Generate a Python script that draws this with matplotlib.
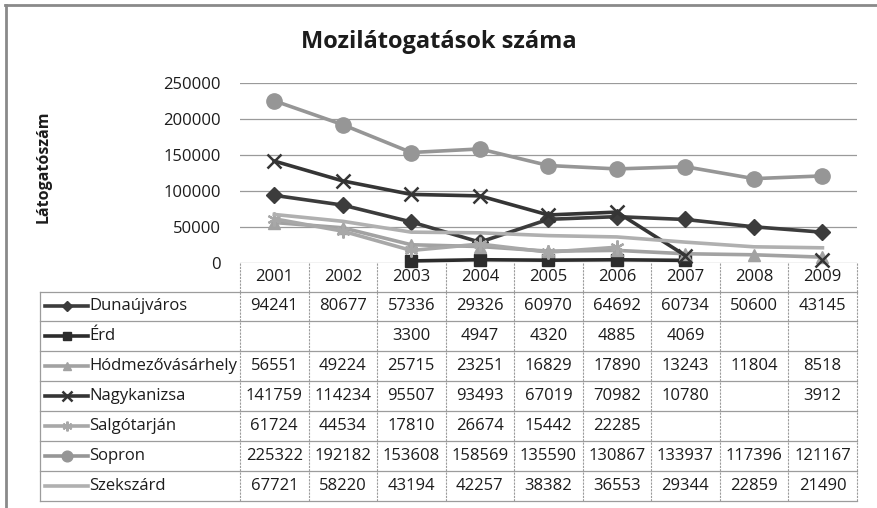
import numpy as np
import matplotlib.pyplot as plt

nan = np.nan

years = ['2001', '2002', '2003', '2004', '2005', '2006', '2007', '2008', '2009']
cities = ['Dunaújváros', 'Érd', 'Hódmezővásárhely', 'Nagykanizsa',
          'Salgótarján', 'Sopron', 'Szekszárd']
dunaujvaros = [94241, 80677, 57336, 29326, 60970, 64692, 60734, 50600, 43145]
erd = [nan, nan, 3300, 4947, 4320, 4885, 4069, nan, nan]
hodmezovasarhely = [56551, 49224, 25715, 23251, 16829, 17890, 13243, 11804, 8518]
nagykanizsa = [141759, 114234, 95507, 93493, 67019, 70982, 10780, nan, 3912]
salgotarjan = [61724, 44534, 17810, 26674, 15442, 22285, nan, nan, nan]
sopron = [225322, 192182, 153608, 158569, 135590, 130867, 133937, 117396, 121167]
szekszard = [67721, 58220, 43194, 42257, 38382, 36553, 29344, 22859, 21490]
series = [dunaujvaros, erd, hodmezovasarhely, nagykanizsa, salgotarjan, sopron, szekszard]

styles = [
    dict(color='#3c3c3c', marker='D', ms=8),
    dict(color='#2c2c2c', marker='s', ms=8),
    dict(color='#a2a2a2', marker='^', ms=9),
    dict(color='#353535', marker='x', ms=10, mew=1.8),
    dict(color='#a8a8a8', marker=(6, 2, 0), ms=10, mew=1.6),
    dict(color='#969696', marker='o', ms=11),
    dict(color='#b0b0b0', marker='None', ms=0),
]

plt.rcParams['font.family'] = ['Open Sans', 'DejaVu Sans']
txt = '#1c1c1c'

W, H = 877, 508
fig = plt.figure(figsize=(W / 100, H / 100), dpi=100)

# plot area in pixels
px0, px1, py0, py1 = 240, 856.7, 83, 263.3
ax = fig.add_axes([px0 / W, 1 - py1 / H, (px1 - px0) / W, (py1 - py0) / H])
x = np.arange(len(years))
for vals, st in zip(series, styles):
    ax.plot(x, vals, lw=2.6, color=st['color'], marker=st['marker'],
            markersize=st['ms'], markeredgewidth=st.get('mew', 1),
            markeredgecolor=st['color'], markerfacecolor=st['color'], clip_on=False)
ax.set_xlim(-0.5, len(years) - 0.5)
ax.set_ylim(0, 250000)
ax.set_yticks(range(0, 250001, 50000))
ax.set_yticklabels([str(v) for v in range(0, 250001, 50000)], fontsize=12, color=txt)
ax.tick_params(axis='y', length=0, pad=14)
ax.set_xticks([])
ax.grid(axis='y', color='#9a9a9a', lw=0.9)
ax.set_axisbelow(True)
for s in ax.spines.values():
    s.set_visible(False)

# overlay in pixel coords for title, border and data table
ov = fig.add_axes([0, 0, 1, 1], zorder=-1)
ov.set_xlim(0, W)
ov.set_ylim(H, 0)
ov.axis('off')
ov.plot([5, W], [5, 5], color='#8a8a8a', lw=2)
ov.plot([6, 6], [5, H], color='#8a8a8a', lw=2)

ov.text(439, 42, 'Mozilátogatások száma', ha='center', va='center',
        fontsize=17, fontweight='bold', color=txt)
ov.text(44, 167, 'Látogatószám', rotation=90, ha='center', va='center',
        fontsize=11.5, fontweight='bold', color=txt)

cw = (px1 - px0) / len(years)
tl, hdr_top, tbl_top, rh = 40, 263.3, 291.5, 29.9
gc = '#9c9c9c'
fs = 12

# header row with years
for i, yr in enumerate(years):
    ov.text(px0 + (i + 0.5) * cw, 277, yr, ha='center', va='center', fontsize=fs, color=txt)
for i in range(len(years) + 1):
    ov.plot([px0 + i * cw] * 2, [hdr_top, tbl_top], color=gc, lw=0.8, ls=(0, (2, 1)))

# table body
bottom = tbl_top + rh * len(cities)
for r in range(len(cities) + 1):
    ov.plot([tl, px1], [tbl_top + r * rh] * 2, color=gc, lw=0.9)
ov.plot([tl, tl], [tbl_top, bottom], color=gc, lw=0.9)
for i in range(len(years) + 1):
    ov.plot([px0 + i * cw] * 2, [tbl_top, bottom], color=gc, lw=0.8, ls=(0, (2, 1)))

for r, (name, vals, st) in enumerate(zip(cities, series, styles)):
    yc = tbl_top + (r + 0.5) * rh
    ov.plot([45, 88], [yc, yc], color=st['color'], lw=2.6)
    if st['ms']:
        ov.plot([66.5], [yc], color=st['color'], marker=st['marker'],
                markersize=st['ms'] * 0.7, markeredgewidth=st.get('mew', 1),
                markeredgecolor=st['color'], markerfacecolor=st['color'])
    ov.text(89, yc, name, ha='left', va='center', fontsize=fs, color=txt)
    for i, v in enumerate(vals):
        if not np.isnan(v):
            ov.text(px0 + (i + 0.5) * cw, yc, str(int(v)), ha='center', va='center',
                    fontsize=fs, color=txt)

fig.savefig('out.png', dpi=100)
